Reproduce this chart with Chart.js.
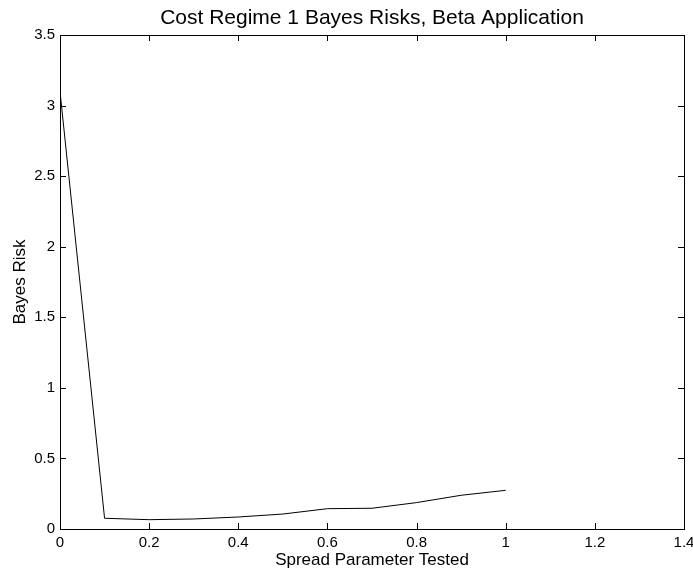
<!DOCTYPE html>
<html>
<head>
<meta charset="utf-8">
<script src="https://cdn.jsdelivr.net/npm/chart.js@4/dist/chart.umd.min.js"></script>
<style>
  html, body { margin: 0; padding: 0; background: #fff; }
  #wrap { width: 693px; height: 571px; }
</style>
</head>
<body>
<div id="wrap"><canvas id="chart-risk" width="693" height="571"></canvas></div>
<script>
const spreads = [0, 0.1, 0.2, 0.3, 0.4, 0.5, 0.6, 0.7, 0.8, 0.9, 1.0];
const risks = [3.1, 0.076, 0.066, 0.071, 0.085, 0.106, 0.144, 0.147, 0.187, 0.239, 0.274];
const xTicks = [0, 0.2, 0.4, 0.6, 0.8, 1, 1.2, 1.4];
const yTicks = [0, 0.5, 1, 1.5, 2, 2.5, 3, 3.5];
const chartTitle = 'Cost Regime 1 Bayes Risks, Beta Application';

const FONT = 'Liberation Sans, Arial, Helvetica, sans-serif';

// matlab style box with inward ticks on every side, title centred on the axes
const boxTicks = {
    id: 'boxTicks',
    afterDraw(chart) {
        const { ctx, chartArea: a, scales } = chart;
        const len = 6;
        ctx.save();
        ctx.strokeStyle = '#000';
        ctx.lineWidth = 1;
        ctx.beginPath();
        xTicks.forEach(v => {
            const px = Math.round(scales.x.getPixelForValue(v)) + 0.5;
            ctx.moveTo(px, a.bottom); ctx.lineTo(px, a.bottom - len);
            ctx.moveTo(px, a.top); ctx.lineTo(px, a.top + len);
        });
        yTicks.forEach(v => {
            const py = Math.round(scales.y.getPixelForValue(v)) + 0.5;
            ctx.moveTo(a.left, py); ctx.lineTo(a.left + len, py);
            ctx.moveTo(a.right, py); ctx.lineTo(a.right - len, py);
        });
        ctx.stroke();
        ctx.strokeRect(Math.round(a.left) + 0.5, Math.round(a.top) + 0.5,
            Math.round(a.right - a.left), Math.round(a.bottom - a.top));

        ctx.fillStyle = '#000';
        ctx.font = '21px ' + FONT;
        ctx.textAlign = 'center';
        ctx.textBaseline = 'alphabetic';
        ctx.fillText(chartTitle, (a.left + a.right) / 2, 24);
        ctx.restore();
    },
};

const fmt = v => String(Number(v.toFixed(1)));

new Chart(document.getElementById('chart-risk'), {
    type: 'line',
    data: {
        datasets: [{
            data: spreads.map((x, i) => ({ x: x, y: risks[i] })),
            borderColor: '#000',
            borderWidth: 1,
            pointRadius: 0,
            tension: 0,
            fill: false,
        }],
    },
    options: {
        responsive: false,
        animation: false,
        layout: { padding: { top: 35, left: 0, right: 0, bottom: 0 } },
        plugins: {
            legend: { display: false },
            tooltip: { enabled: false },
            title: { display: false },
        },
        scales: {
            x: {
                type: 'linear',
                min: 0,
                max: 1.4,
                afterBuildTicks: s => { s.ticks = xTicks.map(v => ({ value: v })); },
                afterFit: s => { s.height = 42; s.paddingLeft = 0; s.paddingRight = 9; },
                grid: { display: false, drawTicks: false },
                border: { display: false },
                ticks: {
                    color: '#000',
                    padding: 5,
                    maxRotation: 0,
                    autoSkip: false,
                    font: { family: FONT, size: 15 },
                    callback: v => fmt(v),
                },
                title: {
                    display: true,
                    text: 'Spread Parameter Tested',
                    color: '#000',
                    padding: { top: 0, bottom: 0 },
                    font: { family: FONT, size: 17 },
                },
            },
            y: {
                min: 0,
                max: 3.5,
                afterBuildTicks: s => { s.ticks = yTicks.map(v => ({ value: v })); },
                afterFit: s => { s.width = 60; s.paddingTop = 0; s.paddingBottom = 0; },
                grid: { display: false, drawTicks: false },
                border: { display: false },
                ticks: {
                    color: '#000',
                    padding: 5,
                    autoSkip: false,
                    font: { family: FONT, size: 15 },
                    callback: v => fmt(v),
                },
                title: {
                    display: true,
                    text: 'Bayes Risk',
                    color: '#000',
                    padding: { top: 10, bottom: 0 },
                    font: { family: FONT, size: 17 },
                },
            },
        },
    },
    plugins: [boxTicks],
});
</script>
</body>
</html>
